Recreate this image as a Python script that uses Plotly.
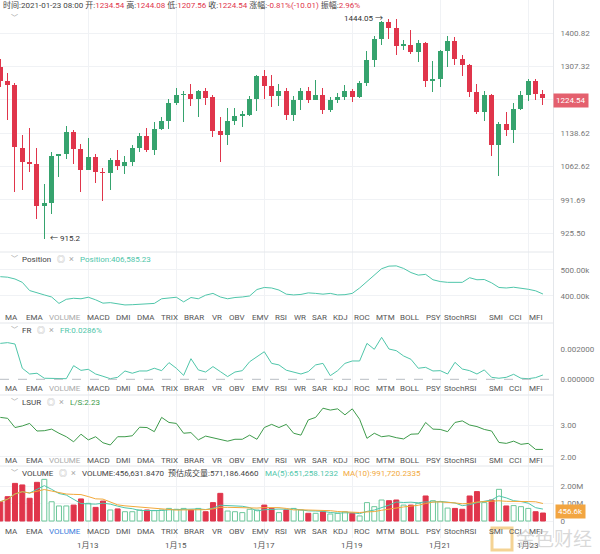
import math
import pandas as pd
import plotly.graph_objects as go

# ---------------- data ----------------
date_labels = ["1月13", "1月15", "1月17", "1月19", "1月21", "1月23"]
date_ticks = [12, 24, 36, 48, 60, 72]          # candle index of each label (4h candles from 1/11 00:00)

opens = [1307.3, 1268.1, 1257.7, 1104.4, 1071.7, 1068.7, 978.5, 985.1, 1086.9, 1090.7,
         1140.2, 1102.1, 1054.1, 1084.6, 1051.3, 1048.4, 1077.8, 1062.6, 1073.2, 1103.6,
         1131.0, 1099.1, 1149.2, 1167.1, 1212.8, 1231.4, 1234.9, 1221.0, 1242.8, 1227.0,
         1142.7, 1134.8, 1168.8, 1181.0, 1183.4, 1221.8, 1282.9, 1255.0, 1230.5, 1243.6,
         1183.4, 1220.1, 1243.6, 1220.1, 1233.1, 1195.5, 1220.1, 1227.0, 1241.9, 1227.0,
         1263.7, 1326.0, 1384.0, 1432.5, 1415.2, 1365.3, 1368.1, 1346.5, 1372.8, 1268.1,
         1275.0, 1349.4, 1379.3, 1327.9, 1312.0, 1239.3, 1189.6, 1231.4, 1110.5, 1161.6,
         1145.1, 1197.9, 1233.1, 1269.8, 1234.54]
highs = [1327.9, 1289.9, 1263.7, 1134.8, 1150.8, 1104.4, 1025.7, 1094.5, 1091.5, 1154.9,
         1145.1, 1114.3, 1128.0, 1090.7, 1060.3, 1081.6, 1099.1, 1086.9, 1112.0, 1138.6,
         1150.8, 1164.7, 1177.7, 1221.8, 1250.6, 1241.9, 1261.1, 1246.3, 1249.8, 1233.1,
         1177.7, 1199.5, 1199.5, 1192.9, 1228.8, 1285.5, 1296.8, 1285.5, 1262.0, 1250.6,
         1230.5, 1249.8, 1253.2, 1272.4, 1250.6, 1227.0, 1237.5, 1259.4, 1248.1, 1268.1,
         1351.2, 1393.3, 1436.3, 1444.05, 1441.1, 1380.2, 1410.5, 1382.1, 1375.6, 1321.4,
         1354.0, 1391.5, 1389.6, 1338.2, 1314.6, 1262.0, 1241.9, 1235.8, 1165.5, 1189.6,
         1212.0, 1243.6, 1274.2, 1275.0, 1244.08]
lows = [1253.2, 1171.2, 1007.3, 1013.0, 1049.8, 953.3, 915.2, 962.0, 1039.2, 1079.3,
        1068.7, 1007.3, 1054.1, 1027.2, 988.4, 1013.0, 1055.5, 1047.0, 1064.1, 1094.5,
        1094.5, 1088.4, 1145.1, 1149.2, 1206.2, 1165.5, 1203.8, 1176.9, 1206.2, 1128.7,
        1071.7, 1112.0, 1158.9, 1152.4, 1181.0, 1191.3, 1221.8, 1202.1, 1203.8, 1171.2,
        1167.1, 1195.5, 1212.0, 1218.5, 1185.0, 1188.8, 1212.0, 1218.5, 1214.4, 1225.3,
        1256.7, 1307.3, 1368.1, 1384.0, 1338.2, 1354.0, 1341.9, 1318.5, 1253.2, 1239.3,
        1253.2, 1307.3, 1310.1, 1281.1, 1227.0, 1185.9, 1167.1, 1085.4, 1042.7, 1132.5,
        1115.8, 1195.5, 1216.0, 1220.1, 1207.56]
closes = [1268.1, 1257.7, 1105.9, 1071.7, 1067.9, 978.5, 985.1, 1086.9, 1090.7, 1140.2,
          1102.1, 1054.1, 1084.6, 1050.6, 1048.4, 1077.8, 1062.6, 1073.2, 1103.6, 1131.0,
          1099.1, 1149.2, 1167.1, 1212.8, 1232.3, 1234.9, 1221.0, 1242.8, 1225.3, 1142.7,
          1134.8, 1168.8, 1181.0, 1185.9, 1221.8, 1282.9, 1255.0, 1230.5, 1243.6, 1183.4,
          1220.1, 1243.6, 1220.1, 1233.1, 1195.5, 1220.1, 1227.0, 1241.9, 1227.0, 1263.7,
          1326.0, 1384.0, 1432.5, 1415.2, 1363.4, 1369.9, 1346.5, 1372.8, 1268.1, 1275.0,
          1349.4, 1379.3, 1327.9, 1310.1, 1239.3, 1189.6, 1231.4, 1110.5, 1161.6, 1145.1,
          1197.9, 1233.1, 1269.8, 1234.55, 1224.54]

position_k = [474, 472, 465, 452, 420, 410, 403, 395, 370, 386,
              390, 388, 394, 384, 371, 373, 368, 364, 365, 366,
              368, 370, 388, 391, 394, 376, 393, 388, 402, 409,
              395, 388, 393, 395, 399, 424, 432, 430, 422, 406,
              403, 405, 411, 409, 406, 409, 403, 404, 409, 430,
              455, 480, 505, 515, 516, 506, 490, 480, 483, 462,
              455, 452, 452, 452, 470, 462, 463, 450, 432, 430,
              433, 430, 425, 419, 406.585]

fr_permille = [2.37, 2.42, 2.33, 0.73, 0.35, 0.40, 0.07, 0.05, 0.04, 0.04,
               0.90, 0.59, 0.66, 0.35, 0.20, 0.04, 0.13, 0.55, 0.40, 0.55,
               0.55, 0.73, 0.57, 1.10, 0.73, 0.26, 1.36, 0.62, 0.48, 0.84,
               0.51, 0.18, 0.48, 0.57, 1.16, 1.50, 1.82, 1.05, 0.95, 0.60,
               0.46, 0.35, 0.51, 0.95, 1.05, 0.24, 0.57, 1.05, 1.21, 1.21,
               2.37, 1.98, 2.77, 2.00, 1.89, 1.54, 1.32, 0.73, 0.79, 0.55,
               0.57, 0.35, 1.12, 0.68, 0.57, 0.35, 0.62, 0.13, 0.07, 0.13,
               0.33, 0.07, 0.04, 0.11, 0.286]

lsur = [3.24, 3.21, 2.92, 2.97, 3.05, 2.81, 2.82, 2.87, 2.74, 2.63,
        2.47, 2.71, 2.53, 2.63, 2.44, 2.37, 2.63, 2.63, 2.66, 2.93,
        2.92, 2.79, 3.24, 3.08, 3.05, 2.74, 2.76, 2.53, 2.65, 2.60,
        2.55, 2.49, 2.55, 2.55, 2.68, 2.55, 2.92, 3.02, 2.92, 3.02,
        2.74, 2.68, 3.16, 3.24, 3.53, 3.47, 3.51, 3.32, 3.51, 3.18,
        2.58, 2.74, 2.63, 2.66, 2.60, 2.56, 2.71, 2.72, 3.08, 2.87,
        2.86, 2.79, 3.08, 3.13, 3.00, 2.95, 2.86, 2.81, 2.45, 2.42,
        2.49, 2.39, 2.42, 2.23, 2.23]

volume_m = [1.10, 1.39, 2.15, 2.06, 1.30, 2.21, 2.38, 1.10, 0.86, 0.86,
            0.91, 1.26, 1.01, 0.78, 1.14, 0.63, 0.69, 0.53, 0.53, 0.63,
            0.63, 0.59, 0.63, 0.72, 0.67, 0.72, 0.63, 0.72, 0.53, 1.05,
            1.58, 0.57, 0.53, 0.48, 0.67, 0.63, 0.91, 0.72, 0.48, 0.63,
            0.72, 0.63, 0.44, 0.44, 0.53, 0.40, 0.44, 0.53, 0.44, 0.29,
            1.05, 0.82, 1.20, 1.16, 1.20, 0.91, 0.91, 1.01, 1.43, 1.16,
            1.10, 0.74, 0.72, 0.67, 1.43, 1.68, 1.05, 1.20, 1.81, 0.86,
            0.88, 0.82, 0.72, 0.53, 0.4566]

price_ticks = [925.50, 991.69, 1062.62, 1138.62, 1220.06, 1307.32, 1400.82]
price_ticktext = ["925.50", "991.69", "1062.62", "1138.62", "", "1307.32", "1400.82"]

tabs = ["MA", "EMA", "VOLUME", "MACD", "DMI", "DMA", "TRIX", "BRAR", "VR", "OBV", "EMV", "RSI",
        "WR", "SAR", "KDJ", "ROC", "MTM", "BOLL", "PSY", "StochRSI", "SMI", "CCI", "MFI"]
tab_centers = [11.5, 35, 65, 98, 123, 146, 169, 194, 217, 237, 260, 281,
               300, 319, 340, 362, 385, 410, 433, 460, 496, 515, 536]

# ---------------- style ----------------
RED = "#E0354B"
GREEN = "#36A36E"
TEAL = "#4FC6AA"
ORANGE = "#F2A93B"
LSGREEN = "#3E9B4B"
GRID = "#F0F2F5"
SEP = "#E4E7EB"
FONT = "Roboto, 'Noto Sans CJK SC', sans-serif"

W, H = 600, 554
PLOT_W = 553


def px(x):
    return x / PLOT_W


def py(y):
    return 1 - y / H


n = len(closes)
idx = list(range(n))
up = [c >= o for o, c in zip(opens, closes)]
ccol = [GREEN if u else RED for u in up]

fig = go.Figure()

# wicks
fig.add_trace(go.Bar(x=idx, y=[h - l for h, l in zip(highs, lows)], base=lows,
                     width=0.14, marker=dict(color=ccol, line=dict(width=0)),
                     xaxis="x", yaxis="y", hoverinfo="skip", showlegend=False))
# bodies
fig.add_trace(go.Bar(x=idx, y=[max(abs(c - o), 0.8) for o, c in zip(opens, closes)],
                     base=[min(o, c) for o, c in zip(opens, closes)],
                     width=0.68, marker=dict(color=ccol, line=dict(width=0)),
                     xaxis="x", yaxis="y", hoverinfo="skip", showlegend=False))

# position
fig.add_trace(go.Scatter(x=idx, y=[v * 1000 for v in position_k], mode="lines",
                         line=dict(color=TEAL, width=1), xaxis="x2", yaxis="y2", showlegend=False))
# FR
fig.add_trace(go.Scatter(x=idx, y=[v / 1000 for v in fr_permille], mode="lines",
                         line=dict(color=TEAL, width=1), xaxis="x3", yaxis="y3", showlegend=False))
# LSUR
fig.add_trace(go.Scatter(x=idx, y=lsur, mode="lines",
                         line=dict(color=LSGREEN, width=1), xaxis="x4", yaxis="y4", showlegend=False))
# volume
vol = [v * 1e6 for v in volume_m]
fig.add_trace(go.Bar(x=idx, y=vol, width=0.68,
                     marker=dict(color=["white" if u else RED for u in up],
                                 line=dict(color=["#6CC79A" if u else RED for u in up], width=1)),
                     xaxis="x5", yaxis="y5", hoverinfo="skip", showlegend=False))
vs = pd.Series(vol)
fig.add_trace(go.Scatter(x=idx, y=vs.rolling(5, min_periods=1).mean(), mode="lines",
                         line=dict(color=TEAL, width=1), xaxis="x5", yaxis="y5", showlegend=False))
fig.add_trace(go.Scatter(x=idx, y=vs.rolling(10, min_periods=1).mean(), mode="lines",
                         line=dict(color=ORANGE, width=1), xaxis="x5", yaxis="y5", showlegend=False))

# panel boundaries (pixels from top)
bounds = [0, 252, 323, 395, 466, 538]
doms = [[py(bounds[i + 1]), py(bounds[i])] for i in range(5)]

xr = [-0.041, 75.37]
xcommon = dict(range=xr, showgrid=True, gridcolor=GRID, gridwidth=1, tickvals=date_ticks,
               zeroline=False, showline=False, ticks="", fixedrange=True, showticklabels=False)
ycommon = dict(side="right", showgrid=True, gridcolor=GRID, zeroline=False, showline=True,
               linecolor=SEP, linewidth=1, ticks="", ticklabelstandoff=5, fixedrange=True,
               tickfont=dict(size=8, color="#777", family=FONT))

layout = dict(
    width=W, height=H, margin=dict(l=0, r=W - PLOT_W, t=0, b=0),
    paper_bgcolor="white", plot_bgcolor="white", barmode="overlay", bargap=0,
    font=dict(family=FONT, size=8, color="#444"), showlegend=False, hovermode=False,
)
for k in range(5):
    xn = "xaxis" if k == 0 else f"xaxis{k + 1}"
    yn = "yaxis" if k == 0 else f"yaxis{k + 1}"
    ya = "y" if k == 0 else f"y{k + 1}"
    xd = dict(xcommon, anchor=ya, domain=[0, 1])
    if k > 0:
        xd["matches"] = "x"
    layout[xn] = xd
    layout[yn] = dict(ycommon, anchor="x" if k == 0 else f"x{k + 1}", domain=doms[k])

layout["yaxis"].update(type="log", range=[math.log10(890.0), math.log10(1500.5)],
                       tickvals=price_ticks, ticktext=price_ticktext)
layout["yaxis2"].update(range=[293800, 570000], tickvals=[400000, 500000],
                        ticktext=["400.00k", "500.00k"])
layout["yaxis3"].update(range=[-0.001036, 0.003716], tickvals=[0, 0.002],
                        ticktext=["0.000000", "0.002000"], showgrid=False)
layout["yaxis4"].update(range=[1.707, 3.946], tickvals=[2, 3], ticktext=["2.00", "3.00"])
layout["yaxis5"].update(range=[-0.971e6, 3.143e6], tickvals=[0, 1e6, 2e6],
                        ticktext=["0", "1.00M", "2.00M"])
fig.update_layout(**layout)

shapes = []
for b in bounds[1:5]:
    shapes.append(dict(type="line", xref="paper", yref="paper", x0=0, x1=1, y0=py(b), y1=py(b),
                       line=dict(color=SEP, width=1)))
# FR zero dashed line
shapes.append(dict(type="line", xref="paper", yref="y3", x0=0, x1=1, y0=0, y1=0,
                   line=dict(color="#B8BDC4", width=1, dash="dash")))
# watermark logo square
shapes.append(dict(type="rect", xref="paper", yref="paper", x0=px(492), x1=px(512),
                   y0=py(550), y1=py(528), line=dict(color="rgba(235,175,60,0.55)", width=3),
                   fillcolor="rgba(255,255,255,0)"))
fig.update_layout(shapes=shapes)

ann = []


def text(x, y, t, size=8, color="#444", xanchor="left", bg=None, **kw):
    d = dict(xref="paper", yref="paper", x=px(x), y=py(y), text=t, showarrow=False,
             xanchor=xanchor, yanchor="middle", font=dict(size=size, color=color, family=FONT))
    if bg:
        d.update(bgcolor=bg, borderpad=2)
    d.update(kw)
    ann.append(d)


def lab(t):
    return f"<span style='color:#444'>{t}</span>"


def val(t):
    return f"<span style='color:{RED}'>{t}</span>"


header = (lab("时间:2021-01-23 08:00 ") + lab("开:") + val("1234.54") + lab(" 高:") + val("1244.08") +
          lab(" 低:") + val("1207.56") + lab(" 收:") + val("1224.54") + lab(" 涨幅:") +
          val("-0.81%(-10.01)") + lab(" 振幅:") + val("2.96%"))
text(1, 5, header, size=8)
text(9, 18, "﹀", size=7, color="#999")

rows = [
    (259, [("Position", "#444"), ("Position:406,585.23", TEAL)], 50),
    (330, [("FR", "#444"), ("FR:0.0286%", TEAL)], 30),
    (402, [("LSUR", "#444"), ("L/S:2.23", LSGREEN)], 40),
    (473, [("VOLUME", "#444"), ("VOLUME:456,631.8470", "#444")], 52),
]
for y, items, name_end in rows:
    text(9, y, "﹀", size=7, color="#999")
    text(20, y, items[0][0], color=items[0][1])
    text(name_end + 5, y, "◎", size=8, color="#AAA")
    text(name_end + 17, y, "×", size=9, color="#AAA")
    text(name_end + 28, y, items[1][0], color=items[1][1])
text(166, 473, "预估成交量:571,186.4660", color="#444")
text(263, 473, "MA(5):651,258.1232", color=TEAL)
text(341, 473, "MA(10):991,720.2335", color=ORANGE)

# indicator tab rows
for r, y in enumerate([317, 388, 460, 531]):
    for t, cx in zip(tabs, tab_centers):
        col = "#555"
        if t == "VOLUME":
            col = "#3B7DDD" if r == 3 else "#AAA"
        text(cx, y, t, color=col, xanchor="center")

# date labels under the volume panel
for t, i in zip(date_labels, date_ticks):
    ann.append(dict(xref="x5", yref="paper", x=i, y=py(545), text=t, showarrow=False,
                    xanchor="center", yanchor="middle", font=dict(size=8, color="#555", family=FONT)))

# price labels on the right axis
text(553, 100, "1224.54", color="white", bg="#E4606E", size=8)
text(555, 511, "456.6k", color="white", bg="#F2A541", size=8)

# extreme price markers
ann.append(dict(xref="x", yref="y", x=53 - 0.6, y=math.log10(highs[53]), text=f"{highs[53]:.2f} →",
                showarrow=False, xanchor="right", yanchor="middle",
                font=dict(size=8, color="#333", family=FONT)))
ann.append(dict(xref="x", yref="y", x=6 + 0.5, y=math.log10(lows[6]), text=f"← {lows[6]:.1f}",
                showarrow=False, xanchor="left", yanchor="middle",
                font=dict(size=8, color="#333", family=FONT)))

# watermark
text(514, 539, "金色财经", size=19, color="rgba(185,185,185,0.55)")

fig.update_layout(annotations=ann)
fig.write_html("out.html", config={"displayModeBar": False, "staticPlot": True},
               post_script="document.body.style.margin='0px';")
